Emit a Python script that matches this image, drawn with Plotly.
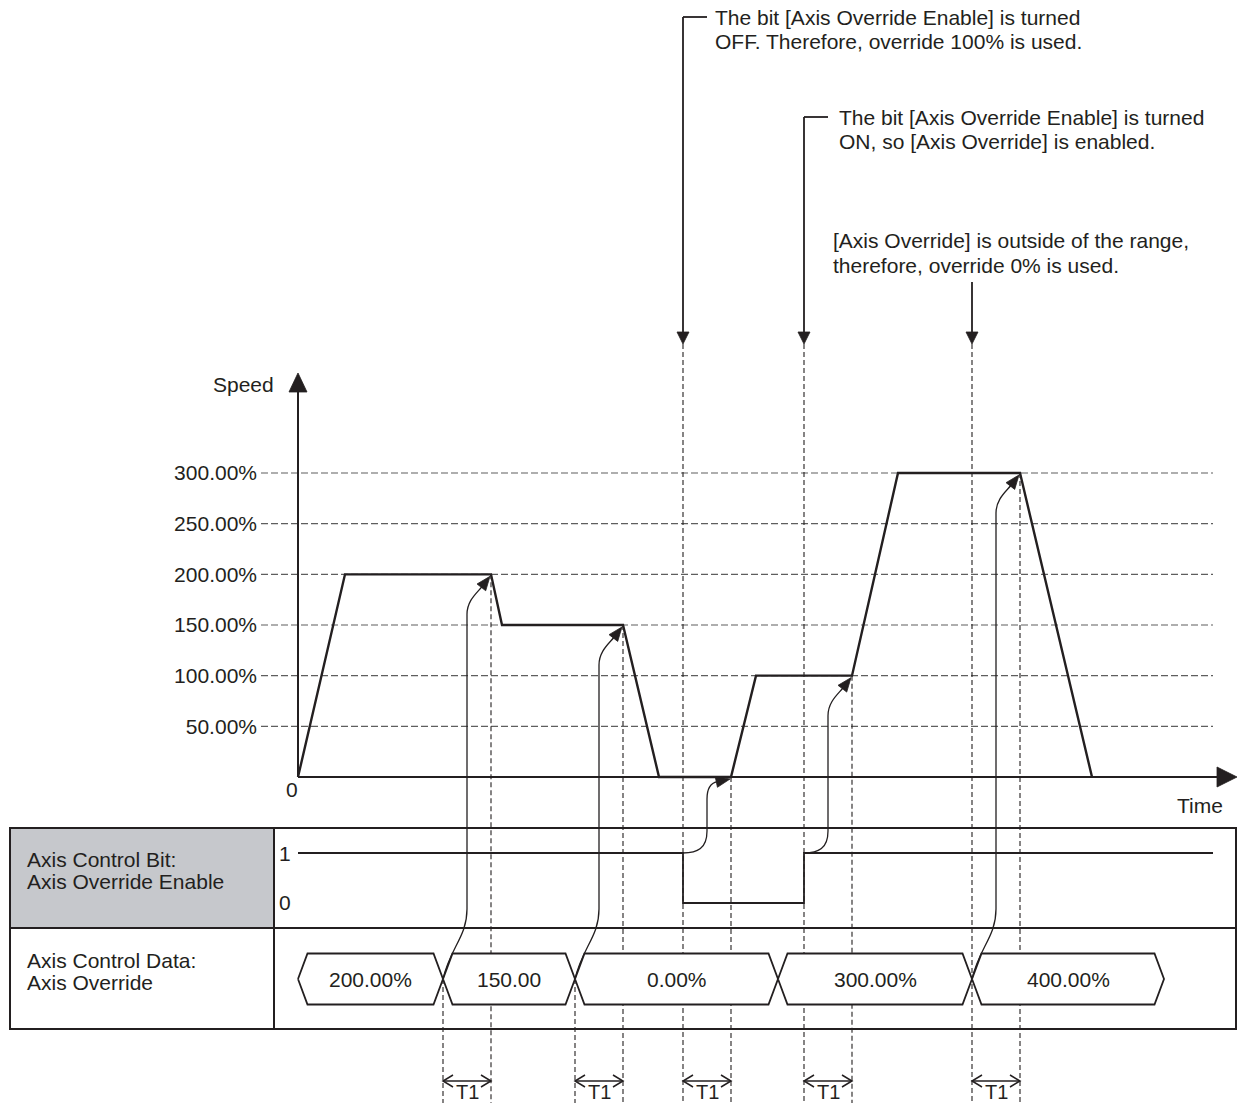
import math
import numpy as np
import plotly.graph_objects as go

# ---------------- data ----------------
speed_time = [0, 47, 193, 204, 325, 361, 433, 458, 554, 600, 722, 794]
speed_pct = [0, 200, 200, 150, 150, 0, 0, 100, 100, 300, 300, 0]
speed_tick_vals = [50, 100, 150, 200, 250, 300]
speed_tick_text = ["50.00%", "100.00%", "150.00%", "200.00%", "250.00%", "300.00%"]

enable_time = [0, 385, 506, 915]
enable_bit = [1, 0, 1, 1]

override_edges = [0, 145, 277, 480, 674, 866]
override_text = ["200.00%", "150.00", "0.00%", "300.00%", "400.00%"]

t1_cause = [145, 277, 385, 506, 674]
t1_effect = [193, 325, 433, 554, 722]
t1_from = ["data", "data", "bit", "bit", "data"]

note_time = [385, 506, 674]
note_text = [
    ["The bit [Axis Override Enable] is turned", "OFF. Therefore, override 100% is used."],
    ["The bit [Axis Override Enable] is turned", "ON, so [Axis Override] is enabled."],
    ["[Axis Override] is outside of the range,", "therefore, override 0% is used."],
]

row_labels = [["Axis Control Bit:", "Axis Override Enable"], ["Axis Control Data:", "Axis Override"]]

# ---------------- layout constants (pixels) ----------------
W, H = 1237, 1107
INK = "#231f20"
GRID = "#5e5e5e"
FONT = "Liberation Sans, Arial, Helvetica, sans-serif"
FS = 21

X0 = 298            # pixel column of t = 0
Y0 = 777            # pixel row of 0 %
K = 304 / 300       # pixels per %
B1, B0 = 853, 903   # pixel rows of bit 1 / 0
BU = B0 - B1
HEX_Y, HEX_H, HEX_D = 979, 25.5, 9.5
TBL_L, TBL_R, TBL_T, TBL_M, TBL_B, TBL_C = 10, 1236, 828, 928, 1029, 274
T1_Y, T1_LBL_Y, DASH_BOT = 1081, 1092, 1103
NOTE_TIP = 344
NOTE_POS = [(713, 17, 42, True), (837, 117, 141, True), (831, 240, 265, False)]
NOTE3_TOP = 282


def tx(t):
    return X0 + t


def sy(s):
    return Y0 - K * s


def P(x, y):
    return f"{x / W:.6f},{1 - y / H:.6f}"


def line(xa, ya, xb, yb, width, color=INK, dash=None, layer="above"):
    return dict(type="line", xref="paper", yref="paper",
                x0=xa / W, y0=1 - ya / H, x1=xb / W, y1=1 - yb / H,
                line=dict(color=color, width=width, dash=dash), layer=layer)


def path(d, width, color=INK, fill=None, layer="above"):
    s = dict(type="path", xref="paper", yref="paper", path=d,
             line=dict(color=color, width=width), layer=layer)
    if fill:
        s["fillcolor"] = fill
    return s


def tri(tip, dirv, length, half):
    tx_, ty_ = tip
    dx, dy = dirv
    bx, by = tx_ - dx * length, ty_ - dy * length
    nx, ny = -dy, dx
    d = f"M {P(tx_, ty_)} L {P(bx + nx * half, by + ny * half)} L {P(bx - nx * half, by - ny * half)} Z"
    return path(d, 0.8, fill=INK)


shapes = []

# table header background
shapes.append(dict(type="rect", xref="paper", yref="paper",
                   x0=TBL_L / W, x1=TBL_C / W, y0=1 - TBL_T / H, y1=1 - TBL_M / H,
                   fillcolor="#c6c8cc", line=dict(width=0), layer="below"))

# horizontal dashed grid
for v in speed_tick_vals:
    shapes.append(line(261, sy(v), 1213, sy(v), 1.2, color=GRID, dash="7px,3px", layer="below"))

# vertical dashed event lines
speed_at = np.interp(t1_effect, speed_time, speed_pct)
for c, e, src, se in zip(t1_cause, t1_effect, t1_from, speed_at):
    top_c = NOTE_TIP if c in note_time else HEX_Y
    shapes.append(line(tx(c), top_c, tx(c), DASH_BOT, 1.1, dash="5px,3px", layer="below"))
    shapes.append(line(tx(e), sy(se), tx(e), DASH_BOT, 1.1, dash="5px,3px", layer="below"))

# axes with arrows
shapes.append(line(X0, Y0, X0, 392, 2))
shapes.append(tri((X0, 373), (0, -1), 19, 9))
shapes.append(line(X0, Y0, 1218, Y0, 2))
shapes.append(tri((1237, Y0), (1, 0), 20, 10))

# table frame
shapes.append(dict(type="rect", xref="paper", yref="paper",
                   x0=TBL_L / W, x1=TBL_R / W, y0=1 - TBL_T / H, y1=1 - TBL_B / H,
                   line=dict(color=INK, width=2), layer="above"))
shapes.append(line(TBL_L, TBL_M, TBL_R, TBL_M, 2))
shapes.append(line(TBL_C, TBL_T, TBL_C, TBL_B, 2))

# curved cause->effect arrows
for c, e, src, se in zip(t1_cause, t1_effect, t1_from, speed_at):
    x0 = tx(c)
    y0 = HEX_Y if src == "data" else B1
    x1, y1 = tx(e), sy(se)
    xm = (x0 + x1) / 2
    height = y0 - y1
    ang = math.radians(12 if height < 100 else 52)
    dirv = (math.cos(ang), -math.sin(ang))
    tip = (x1 - 1, y1 + 2)
    L = 13
    base = (tip[0] - dirv[0] * L, tip[1] - dirv[1] * L)
    if src == "data":
        rb = 70
        d = f"M {P(x0, y0)} C {P(x0 + 0.3 * (xm - x0), y0 - 0.45 * rb)} {P(xm, y0 - 0.6 * rb)} {P(xm, y0 - rb)}"
    else:
        rb = 22
        d = f"M {P(x0, y0)} C {P(x0 + 0.6 * (xm - x0), y0)} {P(xm, y0 - 0.2 * rb)} {P(xm, y0 - rb)}"
    rt = 40 if height >= 100 else 22
    top = y1 + rt
    d += (f" L {P(xm, top)} C {P(xm, top - 0.5 * (top - base[1]))} "
          f"{P(base[0] - dirv[0] * 8, base[1] - dirv[1] * 8)} {P(*base)}")
    shapes.append(path(d, 1.3))
    shapes.append(tri(tip, dirv, 14, 5.5))

# T1 dimension arrows
for c, e in zip(t1_cause, t1_effect):
    xa, xb = tx(c), tx(e)
    shapes.append(line(xa, T1_Y, xb, T1_Y, 1.5))
    shapes.append(path(f"M {P(xa + 10, T1_Y - 6)} L {P(xa, T1_Y)} L {P(xa + 10, T1_Y + 6)}", 1.5))
    shapes.append(path(f"M {P(xb - 10, T1_Y - 6)} L {P(xb, T1_Y)} L {P(xb - 10, T1_Y + 6)}", 1.5))

# note arrows at top
for t, (lx, ly1, ly2, bracket) in zip(note_time, NOTE_POS):
    x = tx(t)
    y_start = ly1 if bracket else NOTE3_TOP
    if bracket:
        shapes.append(line(x, ly1, x + 24, ly1, 1.8))
    shapes.append(line(x, y_start, x, NOTE_TIP - 10, 1.8))
    shapes.append(tri((x, NOTE_TIP), (0, 1), 12, 6))

fig = go.Figure()

# speed profile
fig.add_trace(go.Scatter(x=speed_time, y=speed_pct, mode="lines",
                         line=dict(color=INK, width=2.4), xaxis="x", yaxis="y",
                         hoverinfo="skip", showlegend=False))

# enable bit
fig.add_trace(go.Scatter(x=enable_time, y=enable_bit, mode="lines", line_shape="hv",
                         line=dict(color=INK, width=1.8), xaxis="x", yaxis="y2",
                         hoverinfo="skip", showlegend=False))

# override hexagons
hex_v = (B0 - HEX_Y) / BU
hex_h = HEX_H / BU
for a, b, lbl in zip(override_edges[:-1], override_edges[1:], override_text):
    xs = [a, a + HEX_D, b - HEX_D, b, b - HEX_D, a + HEX_D, a]
    ys = [hex_v, hex_v + hex_h, hex_v + hex_h, hex_v, hex_v - hex_h, hex_v - hex_h, hex_v]
    fig.add_trace(go.Scatter(x=xs, y=ys, mode="lines", fill="toself", fillcolor="white",
                             line=dict(color=INK, width=1.8), xaxis="x", yaxis="y2",
                             hoverinfo="skip", showlegend=False))
    fig.add_annotation(x=(a + b) / 2, y=hex_v, xref="x", yref="y2", text=lbl,
                       showarrow=False, font=dict(size=FS, color=INK, family=FONT))

annotations = []


def text(x, y, s, anchor="left", size=FS):
    annotations.append(dict(x=x / W, y=1 - y / H, xref="paper", yref="paper", text=s,
                            showarrow=False, xanchor=anchor, yanchor="middle",
                            font=dict(size=size, color=INK, family=FONT)))


for lines_, (lx, ly1, ly2, _) in zip(note_text, NOTE_POS):
    text(lx, ly1, lines_[0])
    text(lx, ly2, lines_[1])

text(276, 385, "Speed", anchor="right")
text(1225, 805, "Time", anchor="right")
text(292, 789, "0", anchor="center")
text(25, 859, row_labels[0][0])
text(25, 881, row_labels[0][1])
text(25, 960, row_labels[1][0])
text(25, 982, row_labels[1][1])
text(285, B1, "1", anchor="center")
text(285, B0 - 1, "0", anchor="center")

for c, e in zip(t1_cause, t1_effect):
    text(tx((c + e) / 2), T1_LBL_Y, "T1", anchor="center", size=20)

for a in annotations:
    fig.add_annotation(**a)

fig.update_layout(
    width=W, height=H,
    margin=dict(l=0, r=0, t=0, b=0, pad=0),
    paper_bgcolor="white", plot_bgcolor="rgba(0,0,0,0)",
    showlegend=False,
    shapes=shapes,
    font=dict(family=FONT, color=INK, size=FS),
    xaxis=dict(range=[-X0, W - X0], visible=False, domain=[0, 1], fixedrange=True),
    yaxis=dict(range=[(Y0 - H) / K, Y0 / K], domain=[0, 1], anchor="free", position=X0 / W,
               side="left", tickvals=speed_tick_vals, ticktext=speed_tick_text,
               showgrid=False, zeroline=False, showline=False, ticks="",
               ticklabelstandoff=41, tickfont=dict(size=FS, color=INK, family=FONT),
               fixedrange=True),
    yaxis2=dict(range=[(B0 - H) / BU, B0 / BU], overlaying="y", visible=False,
                domain=[0, 1], fixedrange=True),
)

fig.write_html("out.html", post_script="document.body.style.margin='0';",
               config={"displayModeBar": False})
